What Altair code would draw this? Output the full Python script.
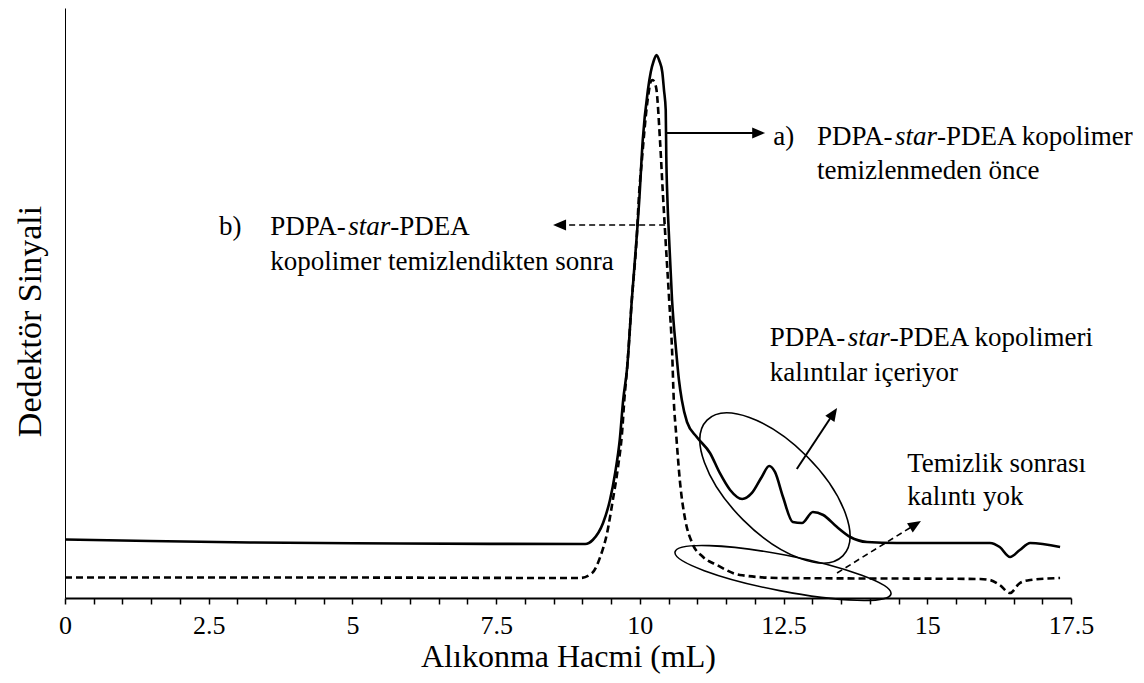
import math
import altair as alt
import pandas as pd

# ---------------- data ----------------
# a) solid curve: before purification
SOLID_X = [0.00, 1.48, 3.22, 5.83, 9.05, 9.18, 9.36, 9.48, 9.57, 9.65, 9.71, 9.78, 9.86, 9.95,
           9.99, 10.05, 10.14, 10.19, 10.24, 10.29, 10.34, 10.39, 10.42, 10.45, 10.46, 10.48,
           10.51, 10.56, 10.63, 10.68, 10.73, 10.82, 10.99, 11.22, 11.39, 11.57, 11.78, 11.95,
           12.12, 12.25, 12.35, 12.49, 12.66, 12.82, 13.01, 13.19, 13.43, 13.66, 13.95, 14.47,
           16.09, 16.26, 16.44, 16.61, 16.79, 17.31]
SOLID_Y = [9.92, 9.66, 9.41, 9.24, 9.15, 9.83, 12.71, 16.61, 21.19, 26.78, 33.56, 39.15, 50.51, 61.86,
           67.46, 77.63, 86.10, 89.15, 91.02, 92.03, 91.02, 89.15, 86.10, 82.71, 74.75, 67.46,
           60.68, 50.51, 42.03, 36.95, 33.56, 29.83, 27.29, 24.58, 21.19, 18.31, 16.78, 17.80,
           20.51, 22.37, 21.36, 17.12, 12.88, 12.71, 14.58, 14.07, 12.03, 10.34, 9.49, 9.32,
           9.32, 8.64, 6.95, 8.14, 9.32, 8.64]

# b) dashed curve: after purification
DASH_X = [0.00, 4.44, 8.96, 9.17, 9.31, 9.43, 9.53, 9.62, 9.69, 9.73, 9.78, 9.86, 9.95, 9.98,
          10.04, 10.12, 10.16, 10.18, 10.22, 10.26, 10.29, 10.35, 10.40, 10.44, 10.51, 10.56,
          10.59, 10.63, 10.70, 10.79, 10.91, 11.10, 11.34, 11.74, 12.44, 15.92, 16.09, 16.26,
          16.44, 16.61, 16.79, 17.31]
DASH_Y = [3.47, 3.47, 3.39, 4.24, 6.95, 11.02, 16.61, 22.20, 27.97, 33.56, 39.15, 50.51, 61.86, 67.46,
          74.75, 83.22, 86.10, 87.29, 87.80, 87.29, 86.10, 77.63, 68.64, 61.86, 50.51, 42.03,
          33.56, 27.97, 19.49, 13.22, 9.32, 6.95, 5.59, 3.90, 3.39, 3.22, 3.05, 2.20,
          0.85, 2.54, 3.05, 3.39]

X_TICKS = [0, 0.5, 1, 1.5, 2, 2.5, 3, 3.5, 4, 4.5, 5, 5.5, 6, 6.5, 7, 7.5, 8, 8.5, 9, 9.5,
           10, 10.5, 11, 11.5, 12, 12.5, 13, 13.5, 14, 14.5, 15, 15.5, 16, 16.5, 17, 17.5]
X_LABEL_STEP = 2.5
X_DOMAIN = [0, 17.5]
Y_DOMAIN = [0, 100]

X_TITLE = "Alıkonma Hacmi (mL)"
Y_TITLE = "Dedektör Sinyali"

# annotation anchors (data units)
ARROW_SOLID = [  # (x_start, y_start, x_tip, y_tip)
    (10.47, 78.81, 12.18, 78.81),
    (12.73, 21.86, 13.43, 32.20),
]
ARROW_DASH = [
    (10.44, 63.22, 8.49, 63.22),
    (13.43, 4.24, 14.89, 13.05),
]
ELLIPSE_1 = (12.35, 18.64)
ELLIPSE_2 = (12.49, 4.24)

# text pieces: (x, y, text, tail-after-italic)
TEXT_LINES = [
    (12.32, 76.78, "a)", None),
    (13.08, 76.78, "STAR", "-PDEA kopolimer"),
    (13.08, 71.02, "temizlenmeden önce", None),
    (2.68, 61.53, "b)", None),
    (3.57, 61.53, "STAR", "-PDEA"),
    (3.57, 55.59, "kopolimer temizlendikten sonra", None),
    (12.26, 42.71, "STAR", "-PDEA kopolimeri"),
    (12.26, 36.78, "kalıntılar içeriyor", None),
    (14.65, 21.36, "Temizlik sonrası", None),
    (14.65, 15.76, "kalıntı yok", None),
]

# ---------------- styling ----------------
W, H = 1006, 590
PXX = W / (X_DOMAIN[1] - X_DOMAIN[0])
PXY = H / (Y_DOMAIN[1] - Y_DOMAIN[0])
FONT = "Liberation Serif"
AFS = 27          # annotation font size
EM_PDPA = 2.889   # width of "PDPA-" in em
EM_STAR = 1.556   # width of italic "star" in em

normal_rows, italic_rows = [], []
for x, y, t, tail in TEXT_LINES:
    if t == "STAR":
        normal_rows.append({"x": x, "y": y, "text": "PDPA-"})
        italic_rows.append({"x": x + EM_PDPA * AFS / PXX, "y": y, "text": "star"})
        normal_rows.append({"x": x + (EM_PDPA + EM_STAR) * AFS / PXX, "y": y, "text": tail})
    else:
        normal_rows.append({"x": x, "y": y, "text": t})


def arrow_tables(arrows):
    lines, heads = [], []
    for x1, y1, x2, y2 in arrows:
        dx = (x2 - x1) * PXX
        dy = -(y2 - y1) * PXY
        a = math.atan2(dy, dx)
        back = 6
        ex = x2 - back * math.cos(a) / PXX
        ey = y2 + back * math.sin(a) / PXY
        lines.append({"x": x1, "y": y1, "x2": ex, "y2": ey})
        heads.append({"x": x2, "y": y2, "angle": math.degrees(a) % 360})
    return pd.DataFrame(lines), pd.DataFrame(heads)


def ellipse_path(r):
    k = 0.5523
    return (f"M 1 0 C 1 {k*r:.4f} {k:.4f} {r:.4f} 0 {r:.4f} "
            f"C {-k:.4f} {r:.4f} -1 {k*r:.4f} -1 0 "
            f"C -1 {-k*r:.4f} {-k:.4f} {-r:.4f} 0 {-r:.4f} "
            f"C {k:.4f} {-r:.4f} 1 {-k*r:.4f} 1 0 Z")


ARROW_PATH = "M 0 0 L -1 -0.42 L -1 0.42 Z"

x_axis = alt.Axis(
    title=X_TITLE, values=X_TICKS, format="~g",
    labelExpr=f"datum.value % {X_LABEL_STEP} == 0 ? datum.label : ''",
    labelOverlap=False, labelFlush=False, labelBound=False, grid=False,
    domainColor="black", domainWidth=2, tickColor="black", tickWidth=1.5, tickSize=6,
    labelFont=FONT, labelFontSize=26, labelColor="black", labelPadding=8,
    titleFont=FONT, titleFontSize=32, titleFontWeight="normal", titleColor="black",
    titleY=68, titleBaseline="alphabetic",
)
y_axis = alt.Axis(
    title=Y_TITLE, labels=False, ticks=False, grid=False,
    domainColor="black", domainWidth=1,
    titleFont=FONT, titleFontSize=34, titleFontWeight="normal", titleColor="black",
    titleAngle=270, titleX=-25, titleY=313, titleBaseline="alphabetic", titleAlign="center",
)
X = alt.X("x:Q", scale=alt.Scale(domain=X_DOMAIN, nice=False, zero=False), axis=x_axis)
Y = alt.Y("y:Q", scale=alt.Scale(domain=Y_DOMAIN, nice=False, zero=False), axis=y_axis)

solid = alt.Chart(pd.DataFrame({"x": SOLID_X, "y": SOLID_Y})).mark_line(
    interpolate="monotone", color="black", strokeWidth=2.6).encode(x=X, y=Y)
dashed = alt.Chart(pd.DataFrame({"x": DASH_X, "y": DASH_Y})).mark_line(
    interpolate="monotone", color="black", strokeWidth=2.6, strokeDash=[7, 4]).encode(x=X, y=Y)

sl, sh = arrow_tables(ARROW_SOLID)
dl, dh = arrow_tables(ARROW_DASH)
heads_df = pd.concat([sh, dh], ignore_index=True)

solid_rules = alt.Chart(sl).mark_rule(color="black", strokeWidth=2).encode(
    x=X, y=Y, x2="x2:Q", y2="y2:Q")
dash_rules = alt.Chart(dl).mark_rule(color="black", strokeWidth=1.6, strokeDash=[6, 4]).encode(
    x=X, y=Y, x2="x2:Q", y2="y2:Q")
heads = alt.Chart(heads_df).mark_point(
    shape=ARROW_PATH, size=676, filled=True, color="black", opacity=1).encode(
    x=X, y=Y, angle=alt.Angle("angle:Q", scale=None))

ell1 = alt.Chart(pd.DataFrame([{"x": ELLIPSE_1[0], "y": ELLIPSE_1[1]}])).mark_point(
    shape=ellipse_path(45 / 96), size=(2 * 96) ** 2, angle=45, filled=False,
    color="black", strokeWidth=1.6, opacity=1).encode(x=X, y=Y)
ell2 = alt.Chart(pd.DataFrame([{"x": ELLIPSE_2[0], "y": ELLIPSE_2[1]}])).mark_point(
    shape=ellipse_path(18 / 110), size=(2 * 110) ** 2, angle=11, filled=False,
    color="black", strokeWidth=1.6, opacity=1).encode(x=X, y=Y)

txt_n = alt.Chart(pd.DataFrame(normal_rows)).mark_text(
    align="left", baseline="alphabetic", font=FONT, fontSize=AFS, color="black").encode(
    x=X, y=Y, text="text:N")
txt_i = alt.Chart(pd.DataFrame(italic_rows)).mark_text(
    align="left", baseline="alphabetic", font=FONT, fontSize=AFS, fontStyle="italic",
    color="black").encode(x=X, y=Y, text="text:N")

chart = alt.layer(solid, dashed, solid_rules, dash_rules, heads, ell1, ell2, txt_n, txt_i).properties(
    width=W, height=H,
    autosize=alt.AutoSizeParams(type="none"),
    padding={"left": 57, "top": 0, "right": 65, "bottom": 76},
).configure_view(stroke=None)

chart.save("out.html", embed_options={"renderer": "svg", "actions": False})
